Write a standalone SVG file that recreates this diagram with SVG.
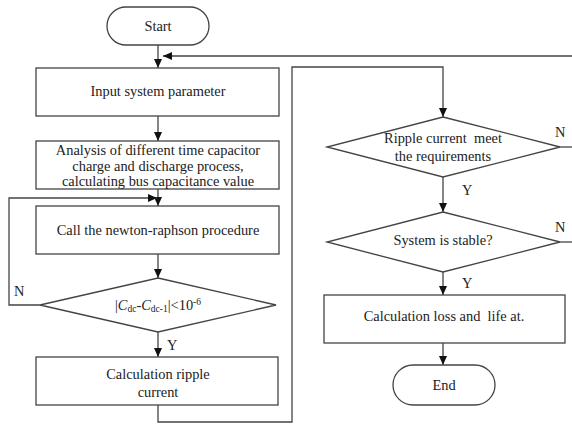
<svg xmlns="http://www.w3.org/2000/svg" width="572" height="425" viewBox="0 0 572 425">
<defs>
<marker id="ah" markerWidth="10" markerHeight="10" refX="9" refY="5" orient="auto" markerUnits="userSpaceOnUse">
<path d="M0,1 L9,5 L0,9 Z" fill="#111"/>
</marker>
<style>
.box{fill:#fff;stroke:#444;stroke-width:1.3}
.ln{fill:none;stroke:#444;stroke-width:1.3}
text{font-family:"Liberation Serif","Times New Roman",serif;font-size:14.4px;fill:#222;text-anchor:middle}
.lbl{text-anchor:start}
</style>
</defs>
<rect width="572" height="425" fill="#fff"/>
<g id="connectors">
<line class="ln" x1="158" y1="45" x2="158" y2="68" marker-end="url(#ah)"/>
<polyline class="ln" points="572,56 163,56" marker-end="url(#ah)"/>
<line class="ln" x1="158" y1="116" x2="158" y2="141" marker-end="url(#ah)"/>
<line class="ln" x1="158" y1="189" x2="158" y2="206" marker-end="url(#ah)"/>
<polyline class="ln" points="40,305 9,305 9,198 157,198" marker-end="url(#ah)"/>
<line class="ln" x1="158" y1="254" x2="158" y2="278" marker-end="url(#ah)"/>
<line class="ln" x1="158" y1="332" x2="158" y2="357" marker-end="url(#ah)"/>
<polyline class="ln" points="158,405 158,422 292,422 292,67 443,67 443,117" marker-end="url(#ah)"/>
<line class="ln" x1="443" y1="177" x2="443" y2="212" marker-end="url(#ah)"/>
<line class="ln" x1="560" y1="147" x2="572" y2="147"/>
<line class="ln" x1="560" y1="242" x2="572" y2="242"/>
<line class="ln" x1="443" y1="272" x2="443" y2="295" marker-end="url(#ah)"/>
<line class="ln" x1="443" y1="343" x2="443" y2="365" marker-end="url(#ah)"/>
<text class="lbl" x="14" y="296">N</text>
<text class="lbl" x="167" y="350">Y</text>
<text class="lbl" x="462" y="195">Y</text>
<text class="lbl" x="462" y="288">Y</text>
<text class="lbl" x="555" y="137">N</text>
<text class="lbl" x="555" y="232">N</text>
</g>
<g id="start">
<rect class="box" x="107" y="7" width="102" height="38" rx="19"/>
<text x="158" y="31">Start</text>
</g>
<g id="input">
<rect class="box" x="36" y="68" width="243" height="48"/>
<text x="158" y="96">Input system parameter</text>
</g>
<g id="analysis">
<rect class="box" x="36" y="141" width="243" height="48"/>
<text x="158" y="155">Analysis of different time capacitor</text>
<text x="158" y="170.5">charge and discharge process,</text>
<text x="158" y="186">calculating bus capacitance value</text>
</g>
<g id="newton">
<rect class="box" x="36" y="206" width="243" height="48"/>
<text x="158" y="235">Call the newton-raphson procedure</text>
</g>
<g id="converge">
<polygon class="box" points="158,278 276,305 158,332 40,305"/>
<text x="158" y="310">|<tspan font-style="italic">C</tspan><tspan font-size="9.5" dy="2">dc</tspan><tspan dy="-2">-</tspan><tspan font-style="italic">C</tspan><tspan font-size="9.5" dy="2">dc-1</tspan><tspan dy="-2">|&lt;10</tspan><tspan font-size="9.5" dy="-5">-6</tspan></text>
</g>
<g id="ripple">
<rect class="box" x="36" y="357" width="242" height="48"/>
<text x="158" y="379">Calculation ripple</text>
<text x="158" y="397">current</text>
</g>
<g id="ripple-check">
<polygon class="box" points="443,117 560,147 443,177 327,147"/>
<text x="443" y="143" xml:space="preserve">Ripple current  meet</text>
<text x="443" y="161">the requirements</text>
</g>
<g id="stable-check">
<polygon class="box" points="443,212 560,242 443,272 327,242"/>
<text x="443" y="245">System is stable?</text>
</g>
<g id="loss">
<rect class="box" x="324" y="295" width="241" height="48"/>
<text x="444" y="321" xml:space="preserve">Calculation loss and  life at.</text>
</g>
<g id="end">
<rect class="box" x="393" y="365" width="102" height="40" rx="20"/>
<text x="444" y="390">End</text>
</g>
</svg>
